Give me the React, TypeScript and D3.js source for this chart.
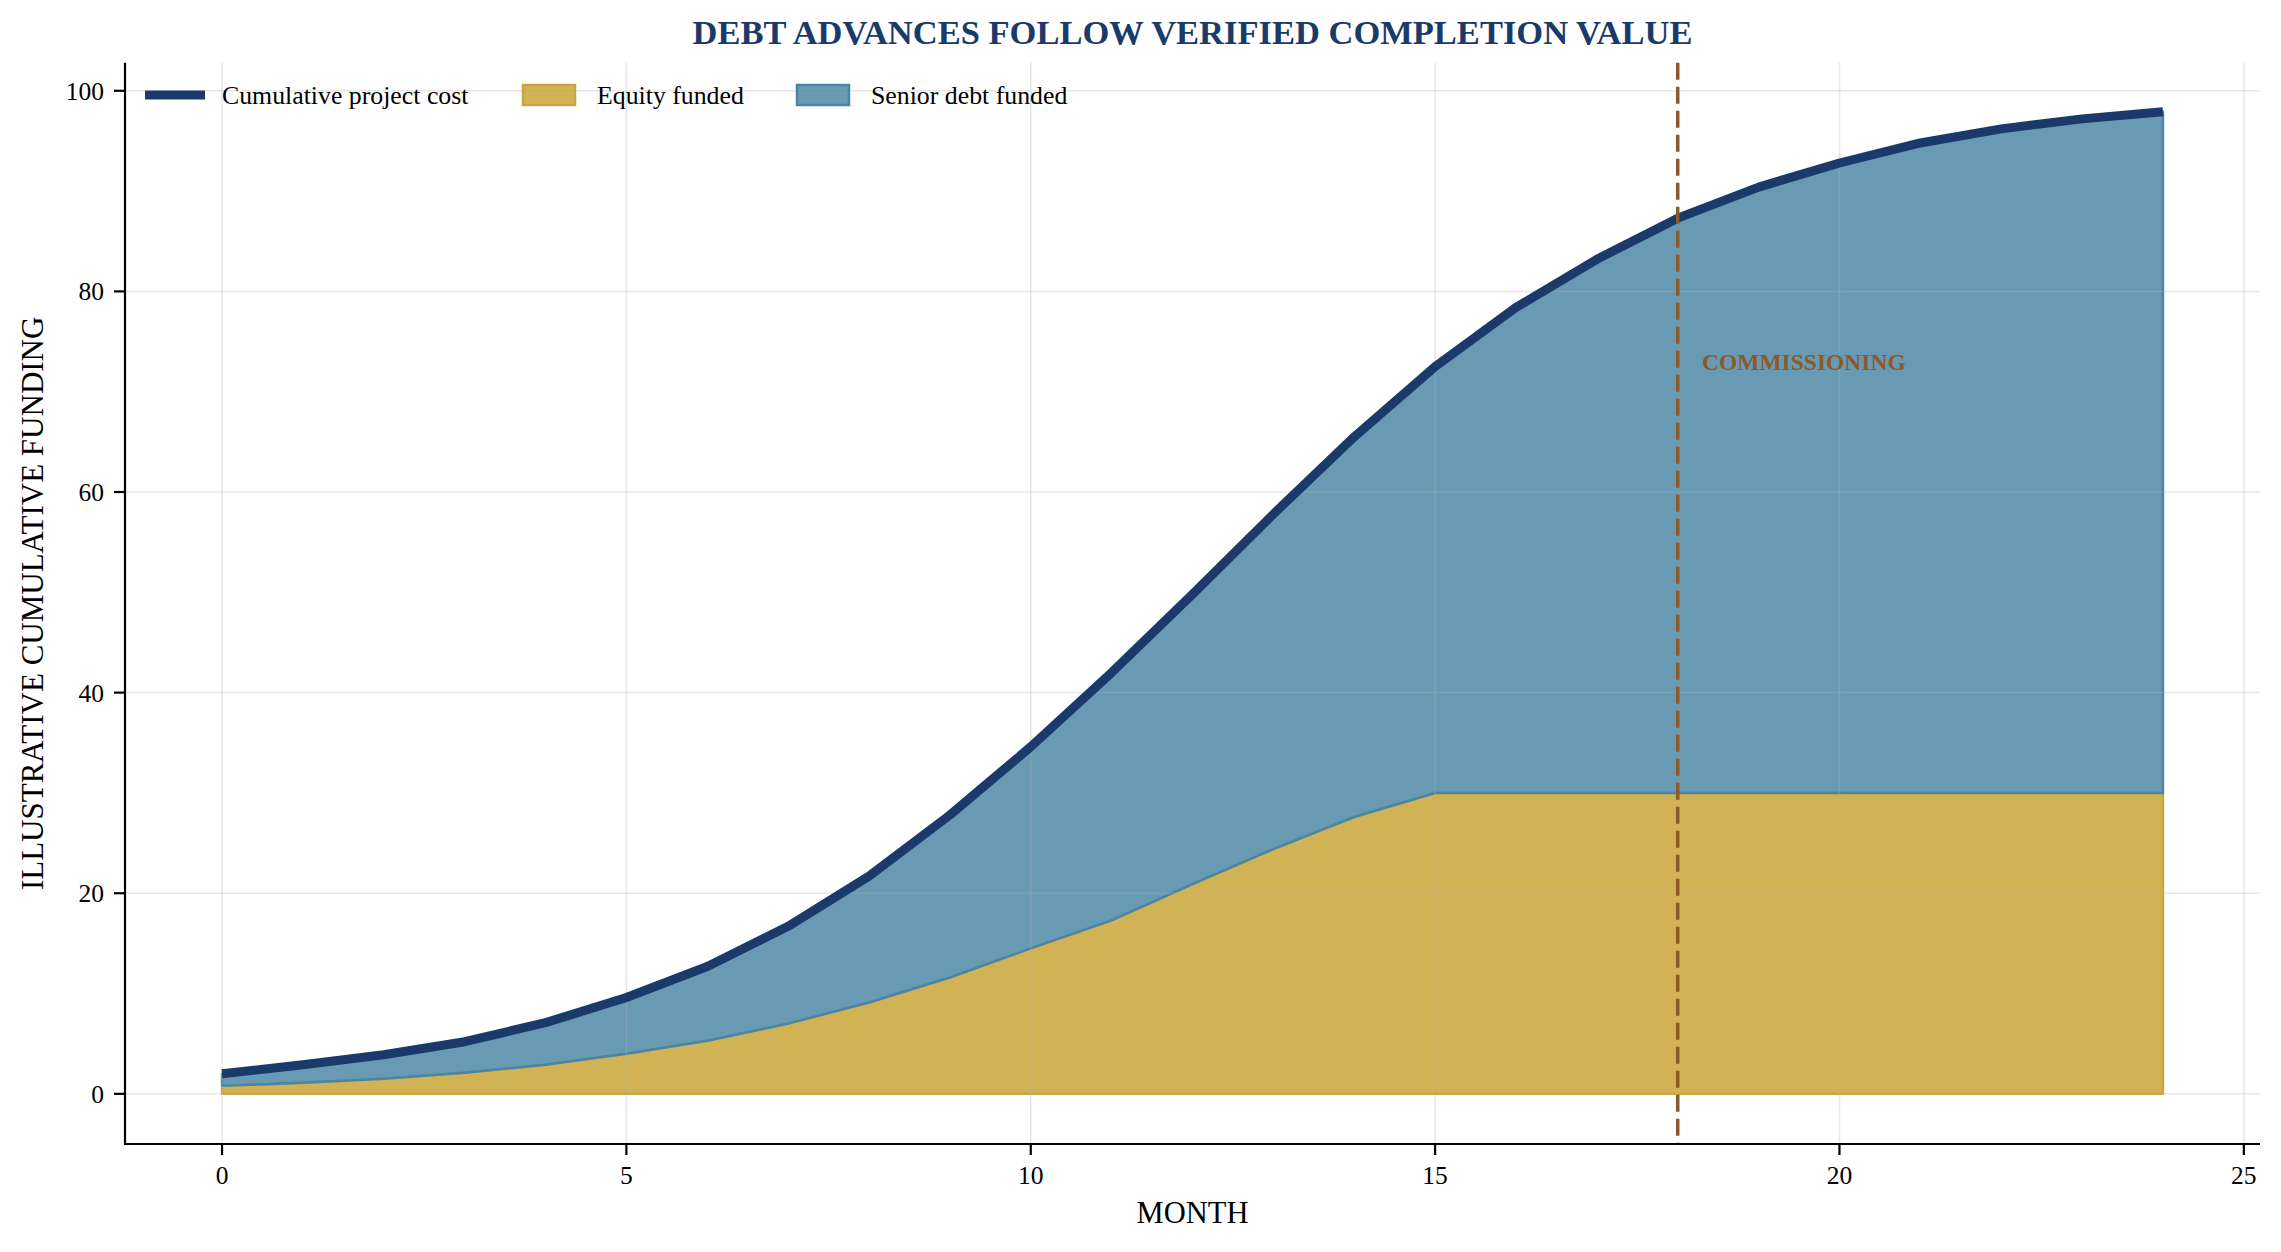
import * as d3 from 'd3';

// Funding profile (illustrative units)
const months = [0, 1, 2, 3, 4, 5, 6, 7, 8, 9, 10, 11, 12, 13, 14, 15, 16, 17, 18, 19, 20, 21, 22, 23, 24];
const cumulativeCost = [2.0, 2.9, 3.9, 5.2, 7.1, 9.6, 12.7, 16.7, 21.7, 27.8, 34.6, 42.0, 49.8, 57.8, 65.5, 72.5, 78.4, 83.2, 87.3, 90.4, 92.8, 94.8, 96.2, 97.2, 97.9];
const equityFunded = [0.8, 1.1, 1.5, 2.1, 2.9, 4.0, 5.3, 7.0, 9.1, 11.6, 14.5, 17.3, 20.9, 24.4, 27.6, 30, 30, 30, 30, 30, 30, 30, 30, 30, 30];
const xTicks = [0, 5, 10, 15, 20, 25];
const yTicks = [0, 20, 40, 60, 80, 100];
const commissioningMonth = 18;
const legendLabels = ['Cumulative project cost', 'Equity funded', 'Senior debt funded'];

const W = 2281;
const H = 1252;
const FONT = '"Liberation Serif", "Times New Roman", serif';
const NAVY = '#1a3a6b';
const BROWN = '#8b5a2b';

type Row = { m: number; cost: number; equity: number };

export default function App() {
  const rows: Row[] = months.map((m, i) => ({ m, cost: cumulativeCost[i], equity: equityFunded[i] }));

  const x = d3.scaleLinear().domain([-1.2, 25.2]).range([125, 2260]);
  const y = d3.scaleLinear().domain([-5, 102.8]).range([1144, 62.7]);
  const [left, right] = x.range();
  const [bottom, top] = y.range();

  const equityArea = d3.area<Row>().x((d) => x(d.m)).y0(y(0)).y1((d) => y(d.equity));
  const debtArea = d3.area<Row>().x((d) => x(d.m)).y0((d) => y(d.equity)).y1((d) => y(d.cost));
  const costLine = d3.line<Row>().x((d) => x(d.m)).y((d) => y(d.cost));

  return (
    <div style={{ position: 'absolute', left: 0, top: 0 }}>
      <svg width={W} height={H} style={{ display: 'block', background: '#fff' }} fontFamily={FONT}>
        {/* stacked fills */}
        <path d={equityArea(rows) ?? ''} fill="#c59f29" fillOpacity={0.8} stroke="#c9a63c" strokeWidth={2.5} strokeLinejoin="round" />
        <path d={debtArea(rows) ?? ''} fill="#4281a1" fillOpacity={0.8} stroke="#4a86a3" strokeWidth={2.5} strokeLinejoin="round" />

        {/* grid sits over the fills, under the lines */}
        <g stroke="#b0b0b0" strokeOpacity={0.3} strokeWidth={1.5}>
          {xTicks.map((t) => (
            <line key={'gx' + t} x1={x(t)} x2={x(t)} y1={top} y2={bottom} />
          ))}
          {yTicks.map((t) => (
            <line key={'gy' + t} x1={left} x2={right} y1={y(t)} y2={y(t)} />
          ))}
        </g>

        <path d={costLine(rows) ?? ''} fill="none" stroke={NAVY} strokeWidth={9} strokeLinejoin="round" />

        {/* commissioning marker */}
        <line
          x1={x(commissioningMonth)}
          x2={x(commissioningMonth)}
          y1={top}
          y2={bottom}
          stroke={BROWN}
          strokeWidth={3.5}
          strokeDasharray="17 7"
        />
        <text x={x(18.3)} y={y(73)} dy="0.35em" fontSize={23.5} fontWeight="bold" fill={BROWN}>
          COMMISSIONING
        </text>

        {/* axes */}
        <g stroke="#000" strokeWidth={2.2}>
          <line x1={left} x2={left} y1={top} y2={bottom + 1} />
          <line x1={left - 1} x2={right} y1={bottom} y2={bottom} />
          {xTicks.map((t) => (
            <line key={'tx' + t} x1={x(t)} x2={x(t)} y1={bottom} y2={bottom + 11} />
          ))}
          {yTicks.map((t) => (
            <line key={'ty' + t} x1={left - 11} x2={left} y1={y(t)} y2={y(t)} />
          ))}
        </g>
        <g fontSize={25.5} fill="#000">
          {xTicks.map((t) => (
            <text key={'lx' + t} x={x(t)} y={bottom + 40} textAnchor="middle">
              {t}
            </text>
          ))}
          {yTicks.map((t) => (
            <text key={'ly' + t} x={left - 21} y={y(t)} dy="0.35em" textAnchor="end">
              {t}
            </text>
          ))}
        </g>

        <text x={(left + right) / 2} y={1223} textAnchor="middle" fontSize={30.5}>
          MONTH
        </text>
        <text transform={`translate(43, ${(top + bottom) / 2}) rotate(-90)`} textAnchor="middle" fontSize={31}>
          ILLUSTRATIVE CUMULATIVE FUNDING
        </text>

        <text x={(left + right) / 2} y={44} textAnchor="middle" fontSize={34.5} fontWeight="bold" fill={NAVY}>
          DEBT ADVANCES FOLLOW VERIFIED COMPLETION VALUE
        </text>

        {/* legend */}
        <g fontSize={25.8}>
          <line x1={145} x2={205} y1={95} y2={95} stroke={NAVY} strokeWidth={9} />
          <text x={222} y={95} dy="0.35em">{legendLabels[0]}</text>
          <rect x={523} y={85} width={52} height={20} fill="#c59f29" fillOpacity={0.8} stroke="#c9a63c" strokeWidth={2.5} />
          <text x={597} y={95} dy="0.35em">{legendLabels[1]}</text>
          <rect x={797} y={85} width={52} height={20} fill="#4281a1" fillOpacity={0.8} stroke="#4a86a3" strokeWidth={2.5} />
          <text x={871} y={95} dy="0.35em">{legendLabels[2]}</text>
        </g>
      </svg>
    </div>
  );
}
